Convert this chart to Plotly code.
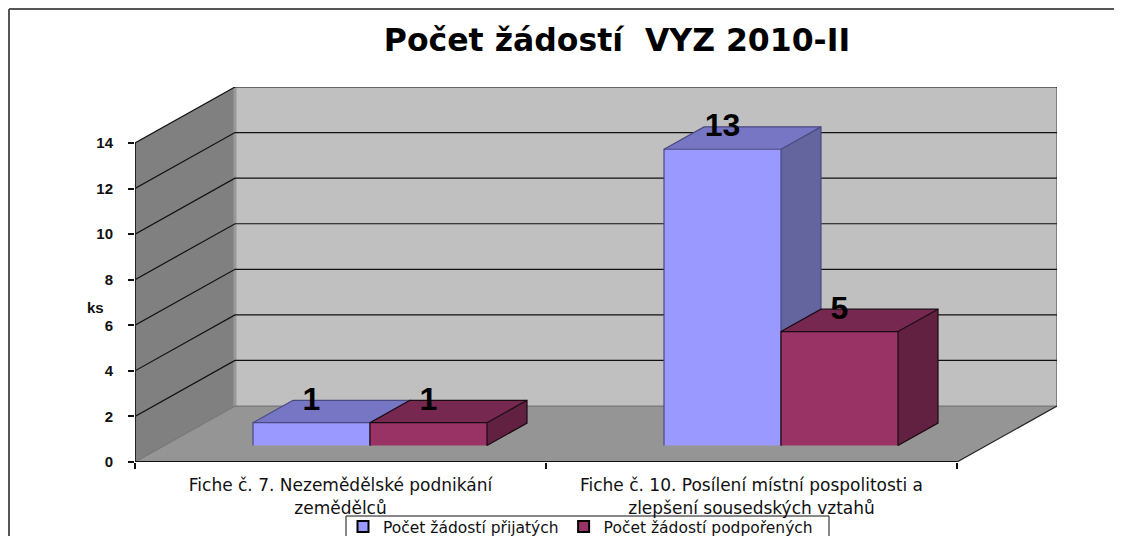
import plotly.graph_objects as go

categories = ["Fiche č. 7. Nezemědělské podnikání<br>zemědělců",
              "Fiche č. 10. Posílení místní pospolitosti a<br>zlepšení sousedských vztahů"]
series_names = ["Počet žádostí přijatých", "Počet žádostí podpořených"]
received = [1, 13]
supported = [1, 5]
y_ticks = [0, 2, 4, 6, 8, 10, 12, 14]
title = "Počet žádostí\u00a0\u00a0VYZ 2010-II"
y_title = "ks"

# oblique projection of the "3D" box, in axis units
DX, DY = 100 / 411, 56 / 22.8
Y_MAX = 14
BAR_W = 117 / 411
BAR_D0, BAR_D1 = 0.295, 0.695   # bars occupy this depth slice

WALL, SIDE, FLOOR = "#C0C0C0", "#808080", "#959595"
GRID = "#111111"
BLUE = ("#9999FF", "#7676C4", "#64649F", "#4A4A80")
RED = ("#993366", "#762850", "#632141", "#1A0A12")

fig = go.Figure()


def poly(xs, ys, color):
    fig.add_trace(go.Scatter(x=xs, y=ys, mode="lines", fill="toself", fillcolor=color,
                             line=dict(width=0, color=color), showlegend=False,
                             hoverinfo="skip", cliponaxis=False))


def path(xs, ys, color, width=1.0, dash=None):
    fig.add_trace(go.Scatter(x=xs, y=ys, mode="lines", line=dict(color=color, width=width, dash=dash),
                             showlegend=False, hoverinfo="skip", cliponaxis=False))


# walls and floor
poly([0, DX, DX, 0, 0], [0, DY, Y_MAX + DY, Y_MAX, 0], SIDE)
poly([DX, 2 + DX, 2 + DX, DX, DX], [DY, DY, Y_MAX + DY, Y_MAX + DY, DY], WALL)
poly([0, 2, 2 + DX, DX, 0], [0, 0, DY, DY, 0], FLOOR)
path([DX, DX], [DY, Y_MAX + DY], "#999999", 3)
path([2 + DX, 2 + DX], [DY, Y_MAX + DY], "#808080", 2)
for t in y_ticks:
    path([0, DX, 2 + DX], [t, t + DY, t + DY], GRID if t else "#777777", 1.2)
path([2, 2 + DX], [0, DY], "#222222", 1.2)
path([0, 0], [0, Y_MAX], "#222222", 2)
path([0, 2], [0, 0], "#111111", 2)


def bar(x0, v, cols):
    front, top, side, edge = cols
    x1 = x0 + BAR_W
    b = BAR_D0 * DY
    ax, ay = (BAR_D1 - BAR_D0) * DX, (BAR_D1 - BAR_D0) * DY
    poly([x1, x1 + ax, x1 + ax, x1, x1], [b, b + ay, b + v + ay, b + v, b], side)
    poly([x0, x1, x1 + ax, x0 + ax, x0], [b + v, b + v, b + v + ay, b + v + ay, b + v], top)
    poly([x0, x1, x1, x0, x0], [b, b, b + v, b + v, b], front)
    path([x0, x0, x1, x1], [b, b + v, b + v, b], edge, 1.2)
    path([x0, x0 + ax, x1 + ax, x1 + ax, x1], [b + v, b + v + ay, b + v + ay, b + ay, b], edge, 1.2)
    path([x1, x1 + ax], [b + v, b + v + ay], edge, 1.2)


for i in range(len(categories)):
    c = i + 0.5 + BAR_D0 * DX
    bar(c - BAR_W, received[i], BLUE)
    bar(c, supported[i], RED)

# data labels
lab_x, lab_y, lab_t = [], [], []
for i in range(len(categories)):
    c = i + 0.5 + BAR_D0 * DX
    for off, v in ((-BAR_W / 2, received[i]), (BAR_W / 2, supported[i])):
        lab_x.append(c + off)
        lab_y.append(BAR_D0 * DY + v + 21 / 22.8)
        lab_t.append(str(v))
fig.add_trace(go.Scatter(x=lab_x, y=lab_y, text=lab_t, mode="text", showlegend=False, hoverinfo="skip",
                         cliponaxis=False,
                         textfont=dict(family="Liberation Sans", size=32, color="#000000", weight="bold")))

# legend entries
for name, col in zip(series_names, (BLUE[0], RED[0])):
    fig.add_trace(go.Scatter(x=[None], y=[None], mode="markers", name=name,
                             marker=dict(symbol="square", size=11, color=col,
                                         line=dict(color="#000000", width=2))))

# The page adds an 8 px body margin, so the figure is 1114x528 and starts at (8, 8)
fig.update_layout(
    width=1114, height=528,
    margin=dict(l=127, r=65, t=79, b=74, autoexpand=False),
    paper_bgcolor="#FFFFFF", plot_bgcolor="#FFFFFF",
    font=dict(family="DejaVu Sans", size=17, color="#111111"),
    title=dict(text=title, x=609 / 1114, xanchor="center", xref="container",
               y=1 - 32 / 528, yanchor="middle",
               font=dict(family="DejaVu Sans", size=31.5, color="#000000", weight="bold")),
    xaxis=dict(range=[0, 2 + DX], tickmode="array", tickvals=[0.5, 1.5], ticktext=categories,
               ticks="outside", ticklen=8, tickcolor="rgba(0,0,0,0)", showgrid=False, zeroline=False,
               showline=False, fixedrange=True, tickangle=0,
               minor=dict(tickmode="array", tickvals=[0, 1, 2], ticks="outside", ticklen=6,
                          tickcolor="#111111", tickwidth=2, showgrid=False)),
    yaxis=dict(range=[0, Y_MAX + DY], tickmode="array", tickvals=y_ticks, ticks="outside", ticklen=6,
               tickcolor="#111111", tickwidth=2, showgrid=False, zeroline=False, showline=False,
               ticklabelstandoff=12, fixedrange=True,
               tickfont=dict(family="Liberation Sans", size=15, weight="bold")),
    showlegend=True,
    legend=dict(orientation="h", x=(343 - 135) / 922, y=-(510 - 462) / 375, xanchor="left", yanchor="top",
                bgcolor="rgba(0,0,0,0)", borderwidth=0,
                font=dict(family="DejaVu Sans", size=15.5), itemclick=False, itemdoubleclick=False),
    annotations=[dict(text=y_title, xref="paper", yref="paper", x=(95 - 135) / 922, y=(462 - 307) / 375,
                      xanchor="center", yanchor="middle", showarrow=False,
                      font=dict(family="Liberation Sans", size=15, weight="bold"))],
    shapes=[dict(type="line", xref="paper", yref="paper", x0=(9 - 135) / 922, x1=(1122 - 135) / 922,
                 y0=(462 - 9) / 375, y1=(462 - 9) / 375, line=dict(color="#555555", width=2)),
            dict(type="line", xref="paper", yref="paper", x0=(9 - 135) / 922, x1=(9 - 135) / 922,
                 y0=(462 - 9) / 375, y1=(462 - 536) / 375, line=dict(color="#555555", width=2)),
            dict(type="rect", xref="paper", yref="paper", x0=(346 - 135) / 922, x1=(829 - 135) / 922,
                 y0=-(516 - 462) / 375, y1=-(545 - 462) / 375, line=dict(color="#111111", width=1))],
)

fig.write_html("out.html", config=dict(displayModeBar=False))
